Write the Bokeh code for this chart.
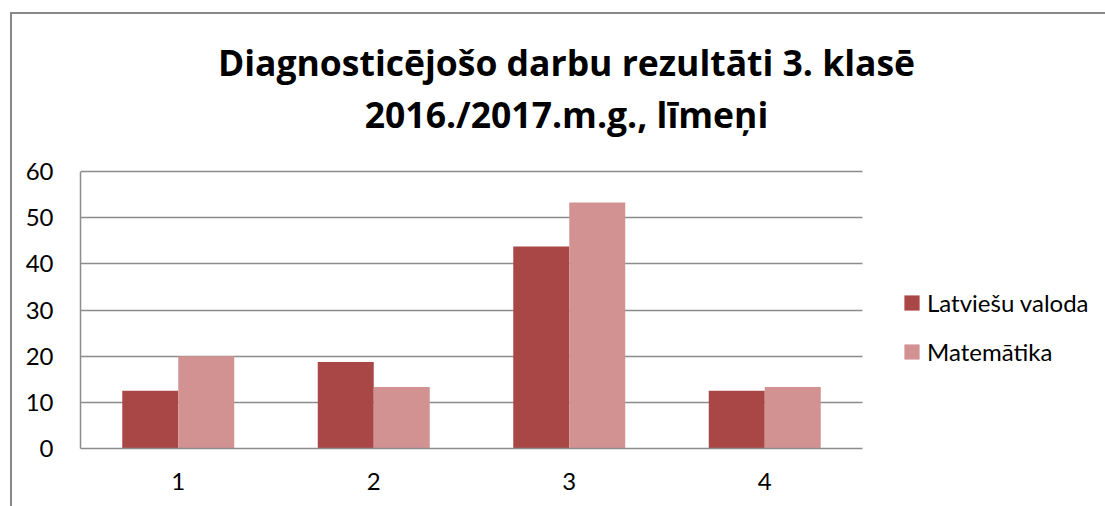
from bokeh.plotting import figure
from bokeh.models import (Range1d, ColumnDataSource, Legend, LegendItem, Label,
                          FixedTicker, InlineStyleSheet, Grid)
from bokeh.embed import file_html
from bokeh.resources import INLINE

categories = ["1", "2", "3", "4"]
latviesu = [12.5, 18.75, 43.75, 12.5]
matematika = [20.0, 13.3, 53.3, 13.3]
series_names = ["Latviešu valoda", "Matemātika"]
title_lines = ["Diagnosticējošo darbu rezultāti 3. klasē", "2016./2017.m.g., līmeņi"]
y_ticks = [0, 10, 20, 30, 40, 50, 60]

FONT = "Lato"
TITLE_FONT = "Open Sans"
DARK = "#A94746"
LIGHT = "#D39292"
GRID = "#8C8C8C"

W, H = 1105, 506
# plot area spans x 80..862 (4 categories) and y 448..171 (0..60); the frame is
# extended up and to the right so that title and legend can live inside it
PX_PER_CAT = (862 - 80) / len(categories)
PX_PER_UNIT = (448 - 171) / y_ticks[-1]
x_end = (W - 80) / PX_PER_CAT
y_end = 448 / PX_PER_UNIT

p = figure(width=W, height=H, output_backend="svg", toolbar_location=None,
           x_range=Range1d(0, x_end), y_range=Range1d(0, y_end),
           min_border_left=80, min_border_right=0, min_border_top=0, min_border_bottom=58)
p.outline_line_color = None
p.background_fill_color = "white"
p.border_fill_color = "white"

centers = [i + 0.5 for i in range(len(categories))]
bw = 0.2864
src = ColumnDataSource(dict(xa=[c - bw / 2 for c in centers], xb=[c + bw / 2 for c in centers],
                            a=latviesu, b=matematika))
r1 = p.vbar(x="xa", top="a", width=bw, source=src, fill_color=DARK, line_color=None)
r2 = p.vbar(x="xb", top="b", width=bw, source=src, fill_color=LIGHT, line_color=None)

# axes
p.yaxis.ticker = FixedTicker(ticks=y_ticks)
p.yaxis.bounds = (0, y_ticks[-1])
p.xaxis.ticker = FixedTicker(ticks=centers)
p.xaxis.major_label_overrides = {c: lab for c, lab in zip(centers, categories)}
p.xaxis.bounds = (0, len(categories))
for ax in (p.xaxis[0], p.yaxis[0]):
    ax.major_tick_line_color = None
    ax.minor_tick_line_color = None
    ax.major_tick_out = 0
    ax.major_tick_in = 0
    ax.minor_tick_out = 0
    ax.minor_tick_in = 0
    ax.axis_line_color = GRID
    ax.axis_line_width = 1.5
    ax.major_label_text_font = FONT
    ax.major_label_text_font_size = "24px"
    ax.major_label_text_color = "black"
p.yaxis.major_label_standoff = 27
p.xaxis.major_label_standoff = 24

p.xgrid.grid_line_color = None
p.ygrid.grid_line_color = GRID
p.ygrid.grid_line_width = 1.5
if "cross_bounds" in Grid.properties():
    p.ygrid.cross_bounds = (0, len(categories))
else:
    p.ygrid.grid_line_color = None
    p.segment(x0=[0] * len(y_ticks), x1=[len(categories)] * len(y_ticks), y0=y_ticks, y1=y_ticks,
              line_color=GRID, line_width=1.5, level="underlay")

# legend (right of plot area)
legend = Legend(items=[LegendItem(label=series_names[0], renderers=[r1]),
                       LegendItem(label=series_names[1], renderers=[r2])],
                location=(822, 82),
                glyph_width=19, glyph_height=19, label_standoff=6, spacing=20,
                padding=0, margin=0, border_line_color=None, background_fill_alpha=0,
                label_text_font=FONT, label_text_font_size="24px", label_text_color="black")
p.add_layout(legend, "center")

# title (two lines)
for txt, yb in zip(title_lines, (386.5, 335.0)):
    p.add_layout(Label(x=486, y=yb, x_units="screen", y_units="screen", text=txt,
                       text_align="center", text_baseline="alphabetic", text_font=TITLE_FONT,
                       text_font_style="bold", text_font_size="35.5px", text_color="black"))

# outer chart border (top and left edges of the chart area)
p.stylesheets.append(InlineStyleSheet(css="""
:host { position: relative; }
:host::after { content: ""; position: absolute; left: 10px; top: 12px; right: 0; bottom: 0;
  border-top: 2px solid #888888; border-left: 2px solid #888888; pointer-events: none; }
"""))

open("out.html", "w").write(file_html(p, INLINE))
